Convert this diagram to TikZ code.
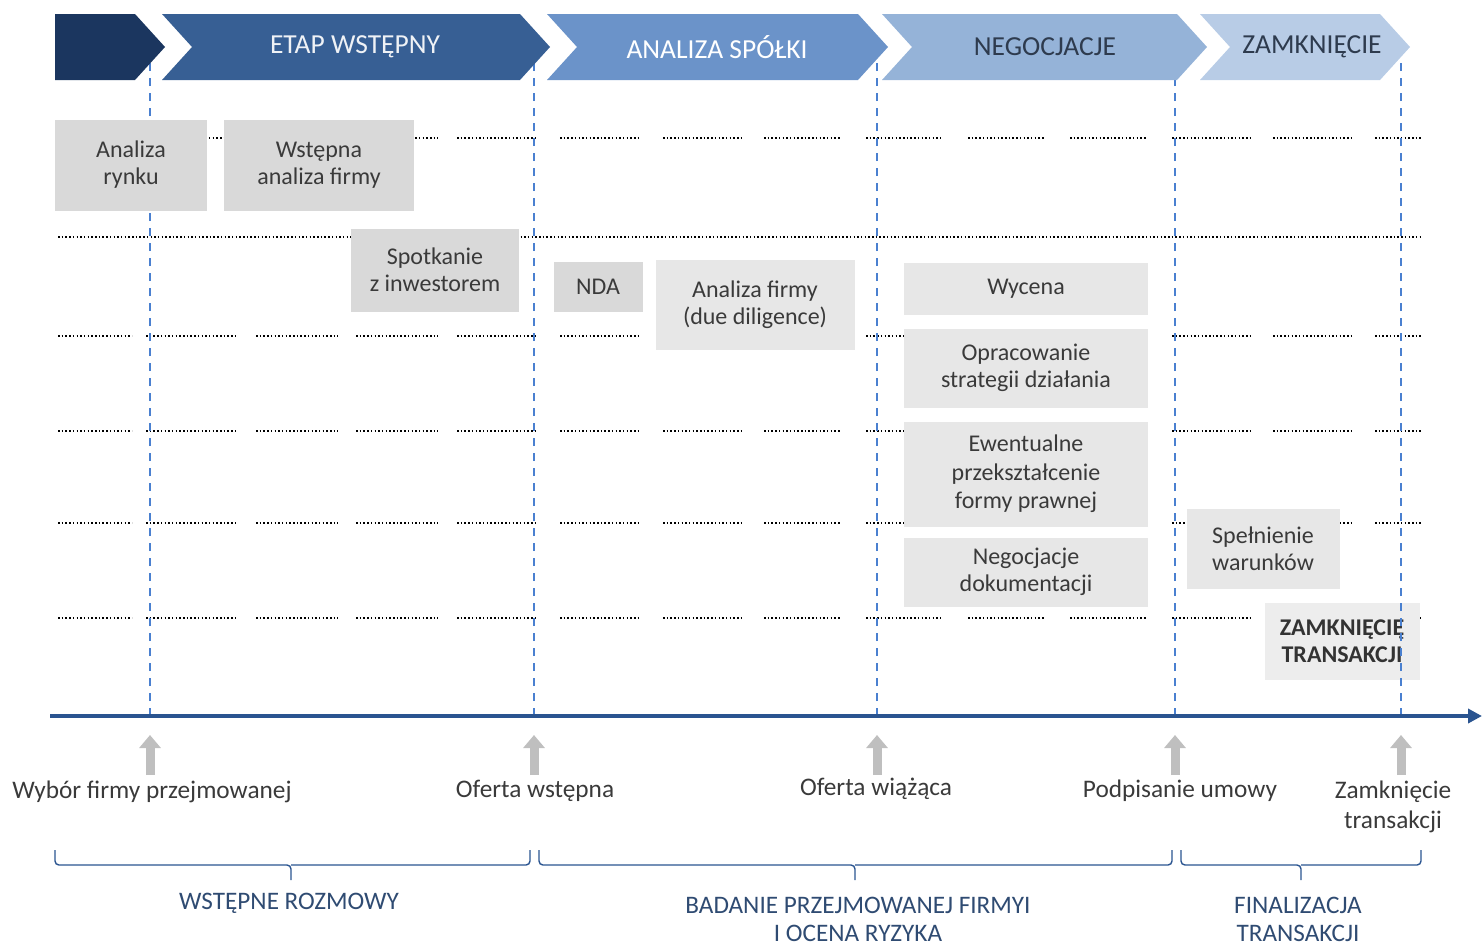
\documentclass[tikz,border=0pt]{standalone}
\usepackage{fontspec}
\setmainfont{Carlito}
\usetikzlibrary{arrows.meta}

\definecolor{etap0}{HTML}{1B365F}
\definecolor{etap1}{HTML}{375F94}
\definecolor{etap2}{HTML}{6B93C9}
\definecolor{etap3}{HTML}{95B3D8}
\definecolor{etap4}{HTML}{B8CCE6}
\definecolor{osblue}{HTML}{2A5490}
\definecolor{linia}{HTML}{4A80D0}
\definecolor{szary}{HTML}{D9D9D9}
\definecolor{jasny}{HTML}{E7E7E7}
\definecolor{bardzojasny}{HTML}{EDEDED}
\definecolor{tekst}{HTML}{3A3A3A}
\definecolor{ciemny}{HTML}{2E3B4E}
\definecolor{grupa}{HTML}{2F4B72}

\tikzset{
    siatka/.style={black, line width=1.6pt, dash pattern=on 1.5pt off 2.2pt},
    granica/.style={linia, line width=1.6pt, dash pattern=on 8pt off 7pt},
    box/.style={fill=#1, text=tekst, align=center, inner sep=0pt},
    box/.default=szary,
    etykieta/.style={font=\fontsize{27.5}{30}\selectfont},
    opis/.style={text=tekst, align=center, font=\fontsize{25.3}{30}\selectfont},
    faza/.style={text=grupa, align=center, font=\fontsize{25.2}{28}\selectfont},
    znacznik/.style={black!25, line width=9pt, -{Triangle[length=13pt, width=21pt]}},
    klamra/.style={osblue, line width=1.4pt, rounded corners=4pt},
}

\begin{document}
\begin{tikzpicture}[x=1pt, y=-1pt, every node/.style={font=\fontsize{24}{27}\selectfont}]
    \useasboundingbox (0,0) rectangle (1482,945);

    % Siatka kropkowana
    \foreach \y in {138,336,431,523,618}
        \foreach \a/\b in {58/132,146/237,256/338,356/438,457/538,560/640,663/741,764/841,
                           866/941,968/1045,1070/1146,1172/1250,1273/1352,1375/1422}
            \draw[siatka] (\a,\y) -- (\b,\y);
    \draw[siatka] (58,237) -- (1422,237);

    % Zamknięcie pod linią graniczną
    \node[box=bardzojasny, minimum width=155pt, minimum height=77pt,
          font=\bfseries\fontsize{24}{27}\selectfont, text=black!80] (zamk) at (1342,641) {ZAMKNIĘCIĘ\\TRANSAKCJI};

    % Kamienie milowe na osi
    \coordinate (k1) at (150,716);
    \coordinate (k2) at (534,716);
    \coordinate (k3) at (877,716);
    \coordinate (k4) at (1175,716);
    \coordinate (k5) at (1401,716);
    \foreach \k in {k1,k2,k3,k4,k5}
        \draw[granica] (\k) -- ++(0,-661);

    % Etapy
    \fill[etap0] (55,14) -- (135,14) -- (165,47) -- (135,80) -- (55,80) -- cycle;
    \foreach \l/\r/\c in {162/520/etap1, 547/858/etap2, 882/1177/etap3, 1200/1380/etap4}
        \fill[\c] (\l,14) -- (\r,14) -- (\r+30,47) -- (\r,80) -- (\l,80) -- (\l+30,47) -- cycle;
    \node[etykieta, text=white!92!etap1] (etap) at (355,47) {ETAP WSTĘPNY};
    \node[etykieta, text=white] (analiza) at (717,47) {ANALIZA SPÓŁKI};
    \node[etykieta, text=ciemny] (negocjacje) at (1045,47) {NEGOCJACJE};
    \node[etykieta, text=ciemny] (zamkniecie) at (1312,47) {ZAMKNIĘCIE};

    % Działania
    \node[box, minimum width=152pt, minimum height=91pt] (rynek) at (131,165) {Analiza\\rynku};
    \node[box, minimum width=190pt, minimum height=91pt] (wstepna) at (319,165) {Wstępna\\analiza firmy};
    \node[box, minimum width=168pt, minimum height=83pt] (spotkanie) at (435,270) {Spotkanie\\z inwestorem};
    \node[box, minimum width=89pt, minimum height=50pt] (nda) at (598,287) {NDA};
    \node[box=jasny, minimum width=199pt, minimum height=90pt] (dd) at (755,305) {Analiza firmy\\(due diligence)};
    \node[box=jasny, minimum width=244pt, minimum height=52pt] (wycena) at (1026,289) {Wycena};
    \node[box=jasny, minimum width=244pt, minimum height=79pt] (strategia) at (1026,368) {Opracowanie\\strategii działania};
    \node[box=jasny, minimum width=244pt, minimum height=105pt, font=\fontsize{24}{28.5}\selectfont] (forma) at (1026,474) {Ewentualne\\przekształcenie\\formy prawnej};
    \node[box=jasny, minimum width=244pt, minimum height=69pt] (dokumenty) at (1026,572) {Negocjacje\\dokumentacji};
    \node[box=jasny, minimum width=153pt, minimum height=80pt] (warunki) at (1263,549) {Spełnienie\\warunków};

    % Oś czasu
    \draw[osblue, line width=4pt, -{Triangle[length=14pt, width=14pt]}] (50,716) -- (1482,716);

    % Zdarzenia
    \node[opis] (o1) at (152,792) {Wybór firmy przejmowanej};
    \node[opis] (o2) at (535,791) {Oferta wstępna};
    \node[opis] (o3) at (876,789) {Oferta wiążąca};
    \node[opis] (o4) at (1180,791) {Podpisanie umowy};
    \node[opis] (o5) at (1393,807) {Zamknięcie\\transakcji};
    \foreach \k in {k1,k2,k3,k4,k5}
        \draw[znacznik] ([yshift=-59pt]\k) -- ([yshift=-19pt]\k);

    % Fazy
    \foreach \a/\b/\m in {55/530/291, 539/1172/855, 1181/1421/1301}{
        \draw[klamra] (\a,850) |- (\m,865) -- (\m,880);
        \draw[klamra] (\b,850) |- (\m,865);
    }
    \node[faza] (rozmowy) at (289,903) {WSTĘPNE ROZMOWY};
    \node[faza] (badanie) at (858,919) {BADANIE PRZEJMOWANEJ FIRMYI\\I OCENA RYZYKA};
    \node[faza] (finalizacja) at (1298,919) {FINALIZACJA\\TRANSAKCJI};
\end{tikzpicture}
\end{document}
